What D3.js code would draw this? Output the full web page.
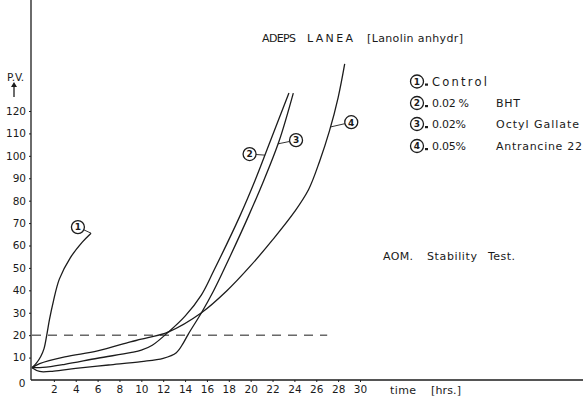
<!DOCTYPE html>
<html><head><meta charset="utf-8">
<script src="https://cdn.jsdelivr.net/npm/d3@7"></script>
<style>
body{margin:0;background:#fff}
svg{display:block}
text{font-family:"DejaVu Sans",sans-serif;fill:#1a1a1a}
</style>
</head><body>
<svg id="c" width="583" height="397"></svg>
<script>
// ---- data ----
const xTicks = [2,4,6,8,10,12,14,16,18,20,22,24,26,28,30];
const yTicks = [10,20,30,40,50,60,70,80,90,100,110,120];
const seriesIds = ["1","2","3","4"];
const seriesNames = ["Control","BHT","Octyl Gallate","Antrancine 22"];
const seriesConc = ["", "0.02 %", "0.02%", "0.05%"];

const controlT = [0,0.4,0.8,1.1,1.35,1.6,1.95,2.5,3.5,4.6,5.4];
const controlV = [5.5,7.5,10.5,14,20,27,35,45,54.5,61.5,65.5];

const bhtT = [0,1,3,6,9,10,11,12.5,14,15.5,16.6,19,20.4,21.8,23.5];
const bhtV = [5.5,5.6,7,9.7,12.2,13.3,15.5,21.5,28.5,38,48.5,73,89,106.6,128];

const octylT = [0,0.7,2,4,7,10,12,13.2,13.85,14.3,15.5,16.6,18.2,19.8,21.2,22.6,23.9];
const octylV = [5.5,3.8,4,5.2,6.7,8.2,9.7,12.2,16.6,20.5,30,39.7,56,73.1,89,106.6,128];

const antrT = [0,0.7,3,6,9,10,12.5,15.5,17.8,20,22,24,25.3,26.3,27.2,28,28.6];
const antrV = [5.5,7.3,10.3,13,17,18.2,21.5,30,39.7,51,62.5,75,85,97.5,111,126,141];

const thresholdV = 20;
const thresholdEndT = 27;

// label anchors (hours, PV) and the hour on the curve the leader points to
const labelAt = [ {t:4.2, v:68.2, to:5.4}, {t:19.9, v:100.8, to:21.3}, {t:24.15, v:107, to:22.5}, {t:29.2, v:115, to:27.3} ];

// ---- drawing ----
const svg = d3.select("#c");
const x = d3.scaleLinear().domain([0,30]).range([32,360]);
const y = d3.scaleLinear().domain([0,120]).range([380,111]);
const ink = "#1c1c1c";

const series = [
  controlT.map((t,i)=>({t, v:controlV[i]})),
  bhtT.map((t,i)=>({t, v:bhtV[i]})),
  octylT.map((t,i)=>({t, v:octylV[i]})),
  antrT.map((t,i)=>({t, v:antrV[i]}))
];

// axes lines
svg.append("line").attr("x1",x(0)-1).attr("x2",583).attr("y1",y(0)).attr("y2",y(0))
  .attr("stroke",ink).attr("stroke-width",1.3);
svg.append("line").attr("x1",x(0)-1).attr("x2",x(0)-1).attr("y1",0).attr("y2",y(0))
  .attr("stroke",ink).attr("stroke-width",1.3);

const ya = svg.append("g").attr("transform",`translate(${x(0)-1},0)`)
  .call(d3.axisLeft(y).tickValues(yTicks).tickSize(2).tickPadding(3));
ya.select(".domain").remove();
ya.selectAll("line").attr("stroke",ink);
ya.selectAll("text").attr("font-size",10.5).attr("fill",ink).style("font-family","DejaVu Sans, sans-serif");

const xa = svg.append("g").attr("transform",`translate(0,${y(0)})`)
  .call(d3.axisBottom(x).tickValues(xTicks).tickSize(2).tickPadding(4));
xa.select(".domain").remove();
xa.selectAll("line").attr("stroke",ink);
xa.selectAll("text").attr("font-size",10.5).attr("fill",ink).style("font-family","DejaVu Sans, sans-serif");

svg.append("text").attr("x",22).attr("y",387).attr("text-anchor","middle").attr("font-size",10.5).text("0");

// threshold dashed line
svg.append("line").attr("x1",x(0)).attr("x2",x(thresholdEndT))
  .attr("y1",y(thresholdV)).attr("y2",y(thresholdV))
  .attr("stroke",ink).attr("stroke-width",1).attr("stroke-dasharray","9,7");

// curves
const line = d3.line().x(d=>x(d.t)).y(d=>y(d.v)).curve(d3.curveCatmullRom.alpha(0.5));
svg.selectAll("path.s").data(series).join("path").attr("class","s")
  .attr("d",line).attr("fill","none").attr("stroke",ink).attr("stroke-width",1.3);

// circled labels on curves
function interp(s,t){
  for(let i=1;i<s.length;i++){
    if(t<=s[i].t){const a=s[i-1],b=s[i];return a.v+(b.v-a.v)*(t-a.t)/(b.t-a.t);}
  }
  return s[s.length-1].v;
}
const r = 6.5;
labelAt.forEach((L,i)=>{
  const cx=x(L.t), cy=y(L.v);
  const tx=x(L.to), ty=y(interp(series[i],L.to));
  const dx=tx-cx, dy=ty-cy, d=Math.hypot(dx,dy);
  svg.append("line").attr("x1",cx+dx/d*r).attr("y1",cy+dy/d*r).attr("x2",tx).attr("y2",ty)
    .attr("stroke",ink).attr("stroke-width",0.9);
  svg.append("circle").attr("cx",cx).attr("cy",cy).attr("r",r).attr("fill","#fff")
    .attr("stroke",ink).attr("stroke-width",1.3);
  svg.append("text").attr("x",cx).attr("y",cy+3.3).attr("text-anchor","middle")
    .attr("font-size",9).attr("font-weight","bold").text(seriesIds[i]);
});

// legend
const legY = [81.5,103,124,146];
seriesIds.forEach((id,i)=>{
  const cy = legY[i];
  svg.append("circle").attr("cx",417).attr("cy",cy).attr("r",r).attr("fill","#fff")
    .attr("stroke",ink).attr("stroke-width",1.3);
  svg.append("text").attr("x",417).attr("y",cy+3.3).attr("text-anchor","middle")
    .attr("font-size",9).attr("font-weight","bold").text(id);
  svg.append("rect").attr("x",425).attr("y",cy+2).attr("width",3).attr("height",2.2).attr("fill",ink);
  if(i===0){
    svg.append("text").attr("x",432).attr("y",cy+4).attr("font-size",11.5)
      .attr("textLength",55).attr("lengthAdjust","spacing").text(seriesNames[0]);
  } else {
    svg.append("text").attr("x",432).attr("y",cy+4).attr("font-size",11)
      .attr("textLength",i===1?37:34).attr("lengthAdjust","spacing").text(seriesConc[i]);
    const lens=[0,24,83,86];
    svg.append("text").attr("x",496).attr("y",cy+4).attr("font-size",11)
      .attr("textLength",lens[i]).attr("lengthAdjust","spacing").text(seriesNames[i]);
  }
});

// title
function txt(s,x0,yb,len,size){
  svg.append("text").attr("x",x0).attr("y",yb).attr("font-size",size||10.5)
    .attr("textLength",len).attr("lengthAdjust","spacing").text(s);
}
txt("ADEPS",262,42,34,11);
txt("LANEA",307,42,46,11);
txt("[Lanolin anhydr]",367,42,96,11);

// AOM note
txt("AOM.",383,260,30,11);
txt("Stability",427,260,50,11);
txt("Test.",488,260,27,11);

// x axis title
txt("time",390,394,26,11);
txt("[hrs.]",431,394,30,11);

// y axis title
svg.append("text").attr("x",7).attr("y",81).attr("font-size",10.5).attr("textLength",17)
  .attr("lengthAdjust","spacing").text("P.V.");
svg.append("line").attr("x1",14).attr("x2",14).attr("y1",97).attr("y2",84)
  .attr("stroke",ink).attr("stroke-width",1.3);
svg.append("path").attr("d","M11,87 L14,82 L17,87 Z").attr("fill",ink);
</script>
</body></html>
